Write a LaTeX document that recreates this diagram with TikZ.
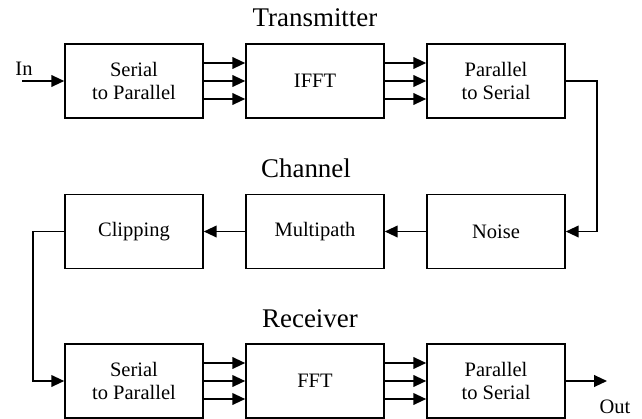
\documentclass[tikz,border=0pt]{standalone}
\usepackage{fontspec}
\setmainfont{Liberation Serif}
\usetikzlibrary{arrows.meta}

\begin{document}
\begin{tikzpicture}[x=0.03cm,y=-0.03cm,line width=1.35pt,>={Triangle[length=11pt,width=10pt]},
		blk/.style={draw,minimum width=4.14cm,minimum height=2.22cm,inner sep=0pt,align=center,font=\fontsize{17.5}{19.5}\selectfont},
		ttl/.style={anchor=base,font=\fontsize{23}{26}\selectfont},
		lbl/.style={anchor=base,font=\fontsize{17.5}{19.5}\selectfont}]
			\useasboundingbox (0,0) rectangle (642,419);
			% titles
			\node[ttl] (ttx) at (315,26) {Transmitter};
			\node[ttl] (tch) at (306,177) {Channel};
			\node[ttl] (trx) at (310,327) {Receiver};
			% transmitter
			\node[blk] (ts2p) at (134,81) {Serial\\to Parallel};
			\node[blk] (ifft) at (315,81) {IFFT};
			\node[blk] (tp2s) at (496,81) {Parallel\\to Serial};
			% channel
			\node[blk] (clip) at (134,231.5) {Clipping};
			\node[blk] (mpath) at (315,231.5) {Multipath};
			\node[blk] (noise) at (496,231.5) {Noise};
			% receiver
			\node[blk] (rs2p) at (134,381) {Serial\\to Parallel};
			\node[blk] (fft) at (315,381) {FFT};
			\node[blk] (rp2s) at (496,381) {Parallel\\to Serial};
			\coordinate (in) at (22,81);
			\node[lbl] (inlbl) at (24,75) {In};
			\coordinate (out) at (607,381);
			\node[lbl] (outlbl) at (615,413) {Out};
			\coordinate (rturn) at (597,81);
			\coordinate (lturn) at (33,231.5);
			\draw[->] (in) -- (ts2p.west);
			\foreach \dy in {-0.54,0,0.54} {
				\draw[->] ([yshift=\dy cm]ts2p.east) -- ([yshift=\dy cm]ifft.west);
				\draw[->] ([yshift=\dy cm]ifft.east) -- ([yshift=\dy cm]tp2s.west);
				\draw[->] ([yshift=\dy cm]rs2p.east) -- ([yshift=\dy cm]fft.west);
				\draw[->] ([yshift=\dy cm]fft.east) -- ([yshift=\dy cm]rp2s.west);
			}
			\draw[->] (tp2s.east) -- (rturn) |- (noise.east);
			\draw[->] (noise.west) -- (mpath.east);
			\draw[->] (mpath.west) -- (clip.east);
			\draw[->] (clip.west) -- (lturn) |- (rs2p.west);
			\draw[->] (rp2s.east) -- (out);
		\end{tikzpicture}
\end{document}
